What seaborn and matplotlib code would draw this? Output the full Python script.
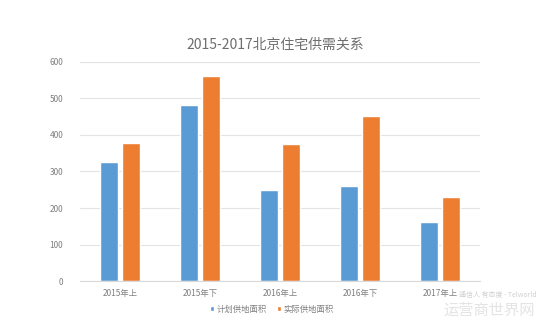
import matplotlib
matplotlib.use("Agg")
import matplotlib.pyplot as plt
import seaborn as sns
import pandas as pd

categories = ["2015年上", "2015年下", "2016年上", "2016年下", "2017年上"]
planned = [326, 481, 249, 259, 162]
actual = [377, 561, 375, 451, 230]
series_names = ["计划供地面积", "实际供地面积"]
title = "2015-2017北京住宅供需关系"

df = pd.DataFrame({
    "cat": categories * 2,
    "val": planned + actual,
    "series": [series_names[0]] * len(categories) + [series_names[1]] * len(categories),
})

sns.set_theme(style="white")
plt.rcParams['font.family'] = ['Noto Sans CJK SC', 'DejaVu Sans']

fig = plt.figure(figsize=(5.5, 3.22), dpi=100)
ax = fig.add_axes([0.1455, 0.1273, 0.7272, 0.6802])

sns.barplot(data=df, x="cat", y="val", hue="series",
            palette=["#5B9BD5", "#ED7D31"], width=0.55, gap=0.2,
            saturation=1, ax=ax, legend=True)

ax.set_ylim(0, 600)
ax.set_xlim(-0.5, 4.5)
ax.set_yticks(range(0, 601, 100))
ax.yaxis.grid(True, color="#E3E3E3", linewidth=0.8)
ax.set_axisbelow(True)
for s in ["top", "right", "left"]:
    ax.spines[s].set_visible(False)
ax.spines["bottom"].set_color("#D9D9D9")
ax.spines["bottom"].set_linewidth(0.8)
ax.tick_params(axis="both", length=0, labelsize=6, colors="#7F7F7F", pad=6)
ax.tick_params(axis="y", pad=12)
ax.set_xlabel("")
ax.set_ylabel("")

fig.text(0.5, 0.86, title, ha="center", va="center", fontsize=10, color="#6E6E6E")

leg = ax.legend(loc="upper center", ncol=2, frameon=False, fontsize=6,
                handlelength=0.5, handleheight=0.5, handletextpad=0.3,
                columnspacing=1.2, labelcolor="#7F7F7F")
leg.set_bbox_to_anchor((272 / 550, 1 - 297 / 322), transform=fig.transFigure)

fig.text(0.905, 0.085, "通信人 有态度 - Telworld", ha="center", va="center",
         fontsize=5, color="#D0D0D0")
fig.text(0.89, 0.035, "运营商世界网", ha="center", va="center",
         fontsize=11, color="#E4E4E4")

fig.savefig("out.png", dpi=100)
